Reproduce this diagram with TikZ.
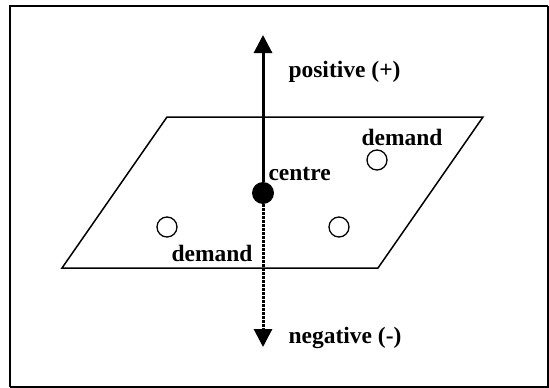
\documentclass[tikz,border=0pt]{standalone}
\usepackage{fontspec}
\setmainfont{Liberation Serif}
\usepackage{tikz}
\usetikzlibrary{arrows.meta}

\begin{document}
\begin{tikzpicture}[x=1pt, y=-1pt, every node/.style={font=\fontsize{23.5}{25}\selectfont\bfseries},
    site/.style={draw, circle, line width=1.3pt, minimum size=20pt, inner sep=0pt},
    hub/.style={fill, circle, minimum size=22pt, inner sep=0pt},
    axis/.style={line width=3pt, -{Triangle[length=18pt, width=18pt]}}]
    \useasboundingbox (0,0) rectangle (549,388);

    % Frame
    \draw[line width=2pt] (10,387) -- (10,6) -- (548,6);
    \draw[line width=1.2pt] (10,387) -- (548,387) -- (548,6);

    % Plane
    \draw[line width=1.5pt] (167,117) -- (483,117) -- (378,268) -- (62,268) -- cycle;

    % Centre and demand points
    \node[hub] (centre) at (263,193) {};
    \node[site] (d1) at (377,160) {};
    \node[site] (d2) at (167,227) {};
    \node[site] (d3) at (339,227) {};

    % Axis
    \coordinate (top) at (263,35);
    \coordinate (bottom) at (263,347);
    \draw[axis] (centre) -- (top);
    \draw[axis, densely dotted] (centre) -- (bottom);

    % Labels
    \node[anchor=west] (pos) at (285,72) {positive (+)};
    \node[anchor=west] (neg) at (285,338) {negative (-)};
    \node[anchor=west] (lc) at (265,174) {centre};
    \node (ld1) at (402,137) {demand};
    \node (ld2) at (212,253) {demand};
\end{tikzpicture}
\end{document}
